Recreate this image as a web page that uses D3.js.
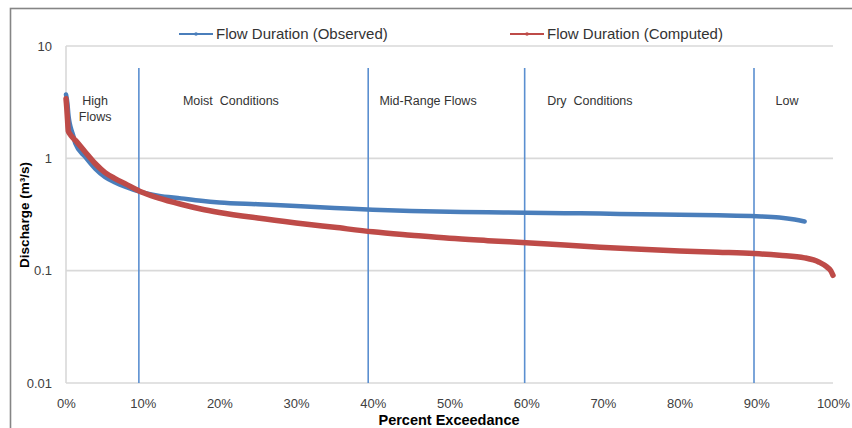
<!DOCTYPE html>
<html>
<head>
<meta charset="utf-8">
<script src="https://cdn.jsdelivr.net/npm/d3@7/dist/d3.min.js"></script>
<style>
  html, body { margin: 0; padding: 0; background: #fff; }
  svg { display: block; }
  text { font-family: "Liberation Sans", Arial, sans-serif; }
</style>
</head>
<body>
<svg id="chart" width="852" height="428"></svg>
<script>
// Percent exceedance (x) and discharge in m3/s (y)
const observedPct = [0, 0.1, 0.2, 0.3, 0.4, 0.6, 1, 1.2, 2.5, 3.8, 5.1, 6.4, 7.7, 9.6, 12, 15, 17.6, 20, 25, 30, 35, 40, 45, 50, 55, 60, 65, 69.6, 75, 80, 85, 90, 93, 95, 96.3];
const observedQ   = [3.7, 3.4, 3.0, 2.5, 2.2, 1.9, 1.55, 1.36, 1.03, 0.81, 0.68, 0.61, 0.56, 0.505, 0.465, 0.44, 0.419, 0.405, 0.39, 0.376, 0.362, 0.349, 0.34, 0.335, 0.331, 0.328, 0.325, 0.322, 0.318, 0.315, 0.311, 0.305, 0.297, 0.285, 0.274];

const computedPct = [0, 0.1, 0.2, 0.3, 0.5, 1, 1.2, 2.5, 3.8, 5.1, 6.4, 7.7, 9.6, 12, 15, 17.6, 20, 25, 30, 35, 40, 45, 50, 55, 60, 65, 69.6, 75, 80, 85, 89.7, 93, 96.3, 98.2, 99.2, 99.7, 100];
const computedQ   = [3.4, 2.8, 2.2, 1.75, 1.65, 1.5, 1.45, 1.14, 0.9, 0.746, 0.66, 0.595, 0.51, 0.445, 0.39, 0.354, 0.33, 0.294, 0.266, 0.243, 0.222, 0.207, 0.194, 0.185, 0.177, 0.169, 0.162, 0.155, 0.150, 0.146, 0.142, 0.137, 0.130, 0.119, 0.108, 0.100, 0.091];

// Flow-regime boundaries and zone labels
const zoneBounds = [9.5, 39.4, 59.8, 89.7];
const zoneLabels = [
  { lines: ["High", "Flows"], x: 3.8 },
  { lines: ["Moist  Conditions"], x: 21.5 },
  { lines: ["Mid-Range Flows"], x: 47.2 },
  { lines: ["Dry  Conditions"], x: 68.3 },
  { lines: ["Low"], x: 94 }
];

const xTicks = [0, 10, 20, 30, 40, 50, 60, 70, 80, 90, 100];
const yTicks = [0.01, 0.1, 1, 10];
const seriesNames = ["Flow Duration (Observed)", "Flow Duration (Computed)"];
const seriesColors = ["#4a7ebb", "#be4b48"];

const svg = d3.select("#chart");
const margin = { left: 66, right: 833, top: 46, bottom: 383 };

const x = d3.scaleLinear().domain([0, 100]).range([margin.left, margin.right]);
const y = d3.scaleLog().domain([0.01, 10]).range([margin.bottom, margin.top]);

// outer chart frame
svg.append("rect")
  .attr("x", 10.5).attr("y", 8.5).attr("width", 860).attr("height", 440)
  .attr("fill", "none").attr("stroke", "#858585").attr("stroke-width", 1.6);

// horizontal gridlines
svg.append("g").selectAll("line").data(yTicks).join("line")
  .attr("x1", margin.left).attr("x2", margin.right)
  .attr("y1", d => y(d)).attr("y2", d => y(d))
  .attr("stroke", "#d9d9d9").attr("stroke-width", 1.6);

// left axis line
svg.append("line")
  .attr("x1", margin.left).attr("x2", margin.left)
  .attr("y1", margin.top).attr("y2", margin.bottom)
  .attr("stroke", "#d9d9d9").attr("stroke-width", 1.6);

// y axis labels
const yAxis = d3.axisLeft(y).tickValues(yTicks).tickSize(0).tickPadding(14)
  .tickFormat(d => d >= 1 ? d3.format("d")(d) : String(d));
const gy = svg.append("g").attr("transform", `translate(${margin.left},0)`).call(yAxis);
gy.select(".domain").remove();
gy.selectAll("text").attr("font-size", 13).attr("fill", "#404040")
  .attr("font-family", "Liberation Sans, Arial, sans-serif");

// x axis labels
const xAxis = d3.axisBottom(x).tickValues(xTicks).tickSize(0).tickPadding(16)
  .tickFormat(d => d + "%");
const gx = svg.append("g").attr("transform", `translate(0,${margin.bottom})`).call(xAxis);
gx.select(".domain").remove();
gx.selectAll("text").attr("font-size", 13).attr("fill", "#404040")
  .attr("font-family", "Liberation Sans, Arial, sans-serif");

// axis titles
svg.append("text")
  .attr("x", 449).attr("y", 425)
  .attr("text-anchor", "middle").attr("font-size", 14.5).attr("font-weight", "bold")
  .attr("fill", "#000").text("Percent Exceedance");

svg.append("text")
  .attr("transform", "translate(29,215) rotate(-90)")
  .attr("text-anchor", "middle").attr("font-size", 13.5).attr("font-weight", "bold")
  .attr("fill", "#000").text("Discharge (m³/s)");

// regime boundary lines
svg.append("g").selectAll("line").data(zoneBounds).join("line")
  .attr("x1", d => x(d)).attr("x2", d => x(d))
  .attr("y1", 68).attr("y2", margin.bottom)
  .attr("stroke", "#5b8fd0").attr("stroke-width", 1.6);

// regime labels
const zl = svg.append("g").selectAll("text").data(zoneLabels).join("text")
  .attr("x", d => x(d.x)).attr("y", 105)
  .attr("text-anchor", "middle").attr("font-size", 12.5).attr("fill", "#333");
zl.selectAll("tspan").data(d => d.lines.map(t => ({ t, x: x(d.x) }))).join("tspan")
  .attr("x", d => d.x).attr("dy", (d, i) => i === 0 ? 0 : 16)
  .style("white-space", "pre").text(d => d.t);

// flow duration curves
const line = d3.line().x(d => x(d[0])).y(d => y(d[1])).curve(d3.curveMonotoneX);
const obs = observedPct.map((p, i) => [p, observedQ[i]]);
const comp = computedPct.map((p, i) => [p, computedQ[i]]);

svg.append("path").datum(obs).attr("d", line)
  .attr("fill", "none").attr("stroke", seriesColors[0]).attr("stroke-width", 4.5)
  .attr("stroke-linejoin", "round").attr("stroke-linecap", "round");
svg.append("path").datum(comp).attr("d", line)
  .attr("fill", "none").attr("stroke", seriesColors[1]).attr("stroke-width", 5.5)
  .attr("stroke-linejoin", "round").attr("stroke-linecap", "round");

// legend
const legendX = [179, 510];
const lg = svg.append("g").selectAll("g").data(seriesNames).join("g")
  .attr("transform", (d, i) => `translate(${legendX[i]},34)`);
lg.append("line").attr("x1", 0).attr("x2", 34).attr("y1", 0).attr("y2", 0)
  .attr("stroke", (d, i) => seriesColors[i]).attr("stroke-width", 2.2);
lg.append("circle").attr("cx", 17).attr("cy", 0).attr("r", 1.8)
  .attr("fill", (d, i) => seriesColors[i]);
lg.append("text").attr("x", 37).attr("y", 5).attr("font-size", 15).attr("fill", "#333")
  .text(d => d);
</script>
</body>
</html>
